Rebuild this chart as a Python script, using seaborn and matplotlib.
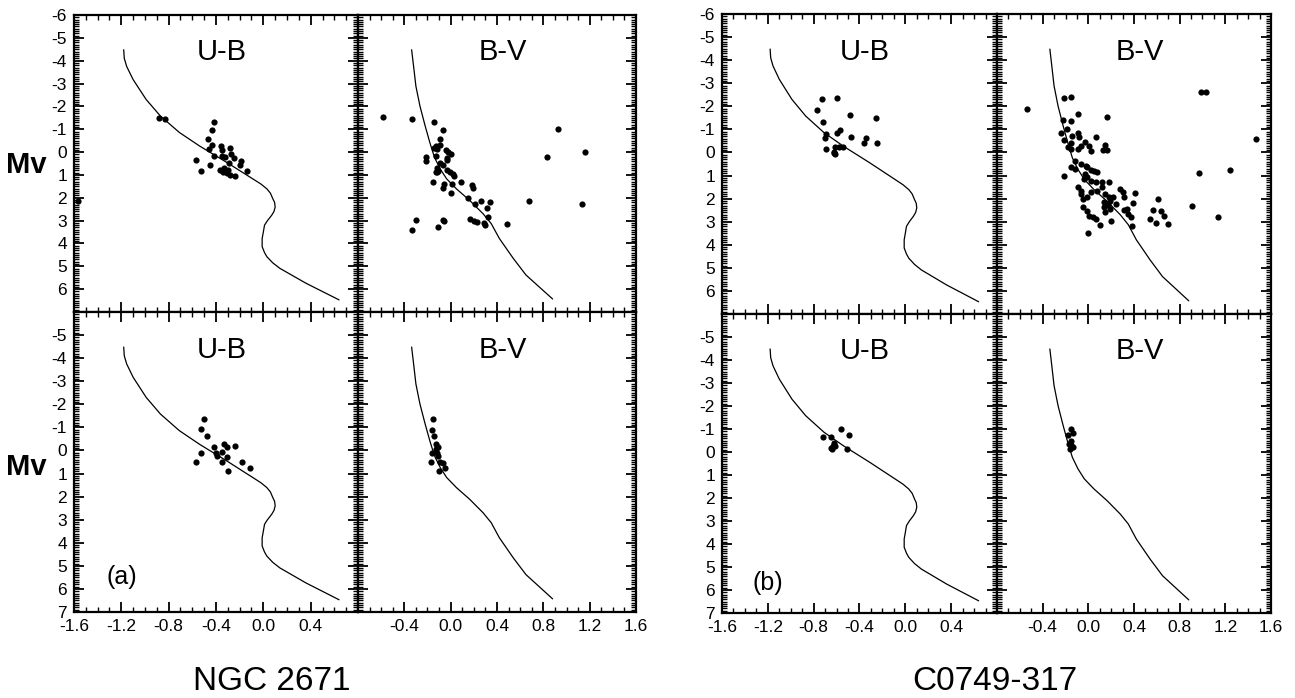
import numpy as np
import pandas as pd
import seaborn as sns
import matplotlib.pyplot as plt
from matplotlib.ticker import MultipleLocator

sns.set_style("ticks")
plt.rcParams["font.family"] = ["Liberation Sans", "DejaVu Sans"]
plt.rcParams["text.color"] = "black"
plt.rcParams["xtick.labelcolor"] = "black"
plt.rcParams["ytick.labelcolor"] = "black"

# %%
# isochrones (same curve drawn in every panel)
iso_ub_x = [-1.18, -1.175, -1.155, -1.10, -0.99, -0.87, -0.71, -0.54, -0.31, -0.09,
            -0.02, 0.03, 0.06, 0.08, 0.095, 0.10, 0.09, 0.07, 0.035, 0.01,
            0.0, -0.01, -0.01, 0.01, 0.03, 0.08, 0.14, 0.36, 0.64]
iso_ub_mv = [-4.48, -4.1, -3.75, -3.17, -2.30, -1.58, -0.86, -0.27, 0.45, 1.17,
             1.40, 1.61, 1.80, 2.04, 2.20, 2.40, 2.60, 2.77, 3.00, 3.20,
             3.50, 3.78, 4.14, 4.40, 4.58, 4.85, 5.09, 5.74, 6.47]
iso_bv_x = [-0.337, -0.32, -0.30, -0.265, -0.22, -0.18, -0.14, -0.09, -0.035, 0.05,
            0.165, 0.28, 0.35, 0.42, 0.54, 0.65, 0.88]
iso_bv_mv = [-4.48, -3.75, -2.88, -2.01, -1.14, -0.42, 0.23, 0.74, 1.17, 1.61,
             2.12, 2.70, 3.13, 3.78, 4.65, 5.38, 6.43]

# NGC 2671, all stars
ngc_all_ub_x = [-0.88, -0.83, -0.42, -0.43, -0.47, -0.43, -0.46, -0.36, -0.35, -0.28,
                -0.42, -0.35, -0.32, -0.275, -0.25, -0.565, -0.45, -0.29, -0.33, -0.37,
                -0.19, -0.20, -0.53, -0.14, -0.31, -0.28, -0.24, -0.34, -0.30, -1.57]
ngc_all_ub_mv = [-1.51, -1.43, -1.32, -0.96, -0.57, -0.32, -0.13, -0.27, -0.10, -0.20,
                 0.16, 0.16, 0.20, 0.09, 0.27, 0.33, 0.57, 0.48, 0.70, 0.77,
                 0.40, 0.55, 0.81, 0.81, 0.91, 0.99, 1.06, 0.86, 0.77, 2.14]
ngc_all_bv_x = [-0.58, -0.33, -0.14, -0.07, -0.09, -0.09, -0.14, -0.13, -0.12, -0.04,
                -0.02, 0.00, -0.21, -0.21, -0.13, -0.03, -0.03, -0.09, -0.07, -0.12,
                -0.11, -0.13, -0.12, -0.03, -0.01, 0.03, 0.02, 0.09, -0.15, -0.06,
                -0.07, 0.01, 0.00, 0.18, 0.19, 0.15, 0.21, 0.26, 0.34, 0.31,
                0.32, 0.17, 0.20, 0.23, 0.29, 0.30, 0.49, -0.33, -0.30, -0.11,
                -0.07, -0.06, 0.68, 0.83, 0.93, 1.16, 1.13]
ngc_all_bv_mv = [-1.54, -1.46, -1.33, -0.96, -0.57, -0.32, -0.20, -0.25, -0.15, -0.10,
                 -0.02, 0.07, 0.23, 0.40, 0.16, 0.26, 0.35, 0.48, 0.55, 0.70,
                 0.81, 0.87, 0.87, 0.78, 0.88, 1.03, 0.95, 1.29, 1.32, 1.39,
                 1.58, 1.41, 1.80, 1.46, 1.58, 2.00, 2.26, 2.14, 2.19, 2.45,
                 2.84, 2.91, 3.00, 3.06, 3.10, 3.20, 3.13, 3.42, 2.99, 3.28,
                 2.96, 3.01, 2.12, 0.20, -1.03, 0.01, 2.28]

# NGC 2671, members
ngc_mem_ub_x = [-0.50, -0.53, -0.48, -0.42, -0.53, -0.57, -0.40, -0.39, -0.33, -0.31,
                -0.24, -0.35, -0.31, -0.35, -0.30, -0.18, -0.11]
ngc_mem_ub_mv = [-1.36, -0.92, -0.63, -0.13, 0.13, 0.49, 0.12, 0.23, -0.30, -0.16,
                 -0.20, 0.06, 0.27, 0.49, 0.88, 0.52, 0.78]
ngc_mem_bv_x = [-0.15, -0.16, -0.145, -0.13, -0.11, -0.13, -0.16, -0.12, -0.11, -0.17,
                -0.09, -0.07, -0.10, -0.05]
ngc_mem_bv_mv = [-1.36, -0.89, -0.63, -0.27, -0.17, -0.08, 0.13, 0.13, 0.26, 0.49,
                 0.52, 0.55, 0.88, 0.78]

# C0749-317, all stars
c07_all_ub_x = [-0.725, -0.60, -0.77, -0.48, -0.26, -0.72, -0.57, -0.60, -0.69, -0.70,
                -0.47, -0.34, -0.36, -0.25, -0.69, -0.61, -0.58, -0.54, -0.62, -0.61,
                -0.62]
c07_all_ub_mv = [-2.33, -2.36, -1.85, -1.61, -1.49, -1.32, -0.96, -0.83, -0.81, -0.64,
                 -0.67, -0.64, -0.42, -0.40, -0.13, -0.23, -0.23, -0.23, -0.01, 0.06,
                 0.03]
c07_all_bv_x = [-0.54, -0.21, -0.15, -0.09, 0.16, -0.22, -0.15, -0.19, -0.24, -0.14,
                -0.09, -0.08, 0.07, -0.21, -0.15, -0.18, -0.15, -0.09, -0.06, -0.03,
                0.01, 0.02, 0.15, 0.13, 0.16, -0.12, -0.15, -0.12, -0.06, -0.02,
                -0.01, 0.02, 0.05, 0.08, -0.03, -0.01, -0.04, 0.02, 0.07, 0.12,
                0.18, -0.21, -0.09, -0.06, 0.02, 0.08, 0.12, -0.06, -0.05, -0.01,
                0.15, 0.18, 0.19, 0.22, 0.28, 0.30, 0.31, 0.41, 0.39, 0.14,
                0.17, 0.19, 0.24, 0.31, 0.34, 0.35, 0.37, 0.38, -0.05, -0.01,
                0.01, 0.04, 0.07, 0.15, 0.14, 0.20, 0.10, 0.00, 0.61, 0.57,
                0.64, 0.66, 0.59, 0.54, 0.70, 0.91, 1.14, 0.97, 1.24, 0.99,
                1.03, 1.47]
c07_all_bv_mv = [-1.90, -2.38, -2.40, -1.65, -1.53, -1.39, -1.35, -1.03, -0.86, -0.71,
                 -0.84, -0.67, -0.67, -0.52, -0.40, -0.23, -0.16, -0.16, -0.27, -0.45,
                 -0.27, -0.06, -0.33, -0.09, -0.09, 0.35, 0.64, 0.71, 0.49, 0.57,
                 0.64, 0.78, 0.81, 0.86, 0.93, 1.07, 1.17, 1.22, 1.29, 1.29,
                 1.29, 1.03, 1.51, 1.65, 1.73, 1.65, 1.51, 1.80, 2.01, 1.94,
                 1.80, 1.94, 2.09, 1.94, 1.58, 1.73, 1.94, 1.77, 2.20, 2.16,
                 2.26, 2.45, 2.23, 2.49, 2.45, 2.67, 2.81, 3.17, 2.38, 2.52,
                 2.74, 2.81, 2.88, 2.60, 2.38, 2.99, 3.14, 3.49, 2.01, 2.49,
                 2.55, 2.74, 3.06, 2.88, 3.10, 2.33, 2.81, 0.88, 0.75, -2.62,
                 -2.60, -0.60]

# C0749-317, members
c07_mem_ub_x = [-0.72, -0.65, -0.56, -0.49, -0.62, -0.63, -0.64, -0.51, -0.61, -0.65]
c07_mem_ub_mv = [-0.66, -0.66, -0.98, -0.76, -0.37, -0.25, -0.11, -0.11, -0.28, -0.18]
c07_mem_bv_x = [-0.15, -0.13, -0.18, -0.15, -0.17, -0.13, -0.16, -0.15]
c07_mem_bv_mv = [-1.01, -0.81, -0.72, -0.47, -0.33, -0.21, -0.15, -0.29]

ub_ticks = [-1.6, -1.2, -0.8, -0.4, 0.0, 0.4, 0.8]
bv_ticks = [-0.8, -0.4, 0.0, 0.4, 0.8, 1.2, 1.6]
mv_ticks = list(range(-6, 8))


# %%
def px_axes(fig, x0, x1, y0, y1):
    W, H = 1295, 698
    return fig.add_axes([x0 / W, 1 - y1 / H, (x1 - x0) / W, (y1 - y0) / H])


def draw_panel(ax, iso_x, iso_mv, star_x, star_mv, band, xlim, xticks, top, left):
    iso = pd.DataFrame({"x": iso_x, "mv": iso_mv})
    stars = pd.DataFrame({"x": star_x, "mv": star_mv})
    sns.lineplot(data=iso, x="x", y="mv", sort=False, estimator=None, errorbar=None,
                 color="black", lw=0.9, ax=ax)
    sns.scatterplot(data=stars, x="x", y="mv", color="black", s=20, linewidth=0, ax=ax)
    ax.set_xlim(*xlim)
    ax.set_ylim(7, -6)
    ax.set_xlabel("")
    ax.set_ylabel("")
    ax.text(0.52, 0.875, band, transform=ax.transAxes, ha="center", va="center", fontsize=21)

    ax.set_xticks(xticks)
    ax.xaxis.set_minor_locator(MultipleLocator(0.1))
    ax.set_yticks(mv_ticks)
    ax.yaxis.set_minor_locator(MultipleLocator(0.1))

    if band == "U-B":
        xl = ["%.1f" % t for t in xticks[:-1]] + [""]
    else:
        xl = [""] + ["%.1f" % t for t in xticks[1:]]
    ax.set_xticklabels(xl)
    if top:
        yl = [str(t) for t in mv_ticks[:-1]] + [""]
    else:
        yl = [""] + [str(t) for t in mv_ticks[1:]]
    ax.set_yticklabels(yl)

    ax.tick_params(which="both", direction="in", top=True, right=True, color="black",
                   labelcolor="black", labelbottom=not top, labelleft=left,
                   labelsize=12.5, pad=5)
    ax.tick_params(which="major", length=7, width=1.3)
    ax.tick_params(which="minor", length=3.5, width=1.0)
    for s in ax.spines.values():
        s.set_linewidth(1.6)
        s.set_color("black")


# %%
fig = plt.figure(figsize=(12.95, 6.98), dpi=100)

panels = [
    # x0, x1, y0, y1, stars, band, top, left
    (74, 358, 15, 312, ngc_all_ub_x, ngc_all_ub_mv, "U-B", True, True),
    (358, 636, 15, 312, ngc_all_bv_x, ngc_all_bv_mv, "B-V", True, False),
    (74, 358, 312, 612, ngc_mem_ub_x, ngc_mem_ub_mv, "U-B", False, True),
    (358, 636, 312, 612, ngc_mem_bv_x, ngc_mem_bv_mv, "B-V", False, False),
    (722, 997, 14, 314, c07_all_ub_x, c07_all_ub_mv, "U-B", True, True),
    (997, 1271, 14, 314, c07_all_bv_x, c07_all_bv_mv, "B-V", True, False),
    (722, 997, 314, 613, c07_mem_ub_x, c07_mem_ub_mv, "U-B", False, True),
    (997, 1271, 314, 613, c07_mem_bv_x, c07_mem_bv_mv, "B-V", False, False),
]

axes = []
for x0, x1, y0, y1, sx, smv, band, top, left in panels:
    ax = px_axes(fig, x0, x1, y0, y1)
    if band == "U-B":
        draw_panel(ax, iso_ub_x, iso_ub_mv, sx, smv, band, (-1.6, 0.8), ub_ticks, top, left)
    else:
        draw_panel(ax, iso_bv_x, iso_bv_mv, sx, smv, band, (-0.8, 1.6), bv_ticks, top, left)
    axes.append(ax)

axes[2].text(0.168, 0.118, "(a)", transform=axes[2].transAxes, ha="center", va="center", fontsize=18)
axes[6].text(0.167, 0.10, "(b)", transform=axes[6].transAxes, ha="center", va="center", fontsize=18)

fig.text(26 / 1295, 1 - 165 / 698, "Mv", ha="center", va="center", fontsize=21, fontweight="bold")
fig.text(26 / 1295, 1 - 467 / 698, "Mv", ha="center", va="center", fontsize=21, fontweight="bold")

fig.text(272 / 1295, 1 - 681 / 698, "NGC 2671", ha="center", va="center", fontsize=24)
fig.text(995 / 1295, 1 - 681 / 698, "C0749-317", ha="center", va="center", fontsize=24)

fig.savefig("out.png", dpi=100)
